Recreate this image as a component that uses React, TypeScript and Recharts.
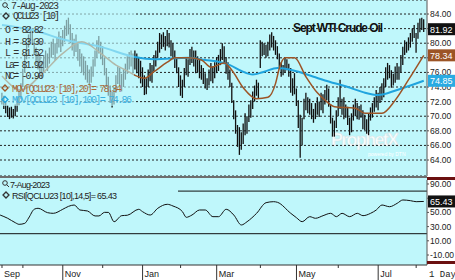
import React from "react";
import {
  ComposedChart,
  LineChart,
  Bar,
  Line,
  XAxis,
  YAxis,
  CartesianGrid,
  ReferenceLine,
} from "recharts";

// daily high / low, one entry per trading day (mid Sep 2022 .. 7 Aug 2023)
const highs = [
  73.2, 72.8, 72.0, 71.5, 71.2, 71.3, 71.0, 71.6, 72.4, 73.6, 74.5,
  76.5, 78.5, 80.0, 81.2, 82.3, 82.0, 80.6, 79.4, 78.6, 78.2, 77.6, 78.4, 79.0, 78.6, 79.4, 80.2, 80.6, 80.0, 80.8, 81.6, 81.0,
  81.8, 82.4, 83.2, 83.5, 82.6, 81.4, 80.6, 81.2, 80.2, 79.2, 78.6, 78.2, 77.6, 77.0, 76.4, 76.8, 77.8, 79.0, 80.4, 81.0, 80.2,
  79.6, 78.0, 76.6, 75.4, 74.2, 73.4, 74.0, 75.6, 76.8, 76.6, 75.8, 76.4, 77.2, 78.2, 78.8, 79.0, 78.6, 79.0, 78.6, 78.1, 77.6,
  76.7, 75.6, 75.2, 76.4, 77.3, 77.0, 78.4, 79.0, 80.2, 81.4, 81.2, 81.5, 81.0, 81.8, 81.4, 80.4, 80.0, 79.0, 78.0, 76.7, 75.6,
  75.0, 76.6, 78.1, 77.8, 79.2, 79.5, 79.0, 79.0, 78.2, 77.7, 77.0, 76.6, 75.9, 75.2, 76.4, 77.3, 76.8, 77.4,
  78.1, 78.4, 79.2, 80.0, 79.6, 78.1, 77.4, 76.4, 74.6, 72.2, 70.8, 68.8, 68.5, 67.8, 69.0, 70.4, 70.0, 71.6, 72.2, 73.4, 74.2, 75.0, 74.6,
  80.4, 80.2, 80.0, 79.8, 80.2, 81.2, 81.5, 81.0, 80.4, 79.6, 78.6, 77.4, 77.0, 78.1, 77.8, 77.2, 76.6, 75.2, 75.9,
  73.8, 72.2, 70.2, 69.8, 72.4, 73.2, 72.6, 72.4, 71.8, 71.0, 71.8, 72.6, 72.0, 73.2, 73.0, 73.6, 74.3, 73.8, 71.6, 69.8, 69.4, 70.8,
  72.6, 75.0, 72.4, 72.6, 71.6, 71.3, 69.8, 70.4, 71.6, 72.4, 71.8, 71.4, 71.6, 70.8, 70.2, 69.6, 70.4, 71.2, 71.8, 72.6, 73.6,
  73.2, 74.0, 74.5, 75.2, 76.7, 77.3, 77.0, 76.3, 75.8, 76.8, 77.3, 76.8, 78.4, 79.5, 80.4, 80.2, 80.8, 81.4, 82.0, 82.5,
  81.4, 82.8, 83.4, 83.5, 83.3,
];
const lows = [
  71.6, 71.0, 70.4, 69.9, 69.6, 69.8, 69.7, 70.0, 70.6, 71.5, 72.4,
  74.0, 76.0, 77.8, 79.4, 80.2, 79.8, 78.4, 77.2, 76.4, 75.8, 75.2, 76.0, 76.6, 76.2, 77.2, 78.0, 78.4, 77.6, 78.6, 79.4, 78.8,
  79.6, 80.2, 81.0, 81.2, 80.0, 79.0, 78.2, 78.8, 77.6, 76.8, 76.0, 75.6, 75.0, 74.6, 74.2, 74.6, 75.4, 76.8, 78.0, 78.6, 77.8,
  77.0, 75.6, 74.0, 72.8, 71.8, 71.2, 71.6, 73.2, 74.4, 74.2, 73.4, 74.0, 75.0, 75.8, 76.4, 76.8, 76.0, 76.4, 75.9, 75.2, 74.5,
  74.0, 72.9, 73.0, 74.0, 74.8, 74.6, 76.2, 76.8, 78.0, 78.7, 79.2, 79.5, 79.0, 79.6, 79.4, 78.2, 78.0, 76.6, 75.9, 74.0, 72.8,
  72.5, 74.0, 75.6, 75.4, 77.0, 77.3, 76.8, 75.9, 76.0, 75.2, 75.0, 74.4, 73.8, 73.6, 74.2, 74.8, 74.5, 75.2,
  75.9, 76.2, 77.0, 77.7, 77.2, 75.8, 75.0, 74.0, 71.8, 69.6, 67.6, 65.8, 64.7, 65.4, 66.2, 67.4, 67.6, 69.2, 69.8, 71.0, 72.0, 72.8, 72.4,
  76.6, 78.2, 78.4, 78.0, 78.2, 79.0, 79.4, 79.0, 78.4, 77.8, 76.6, 75.4, 75.6, 76.0, 76.3, 75.4, 73.2, 72.8, 73.0,
  71.4, 68.4, 64.3, 66.0, 69.6, 70.8, 70.4, 70.2, 69.6, 69.1, 69.6, 70.2, 69.9, 70.8, 70.4, 71.6, 72.2, 71.3, 69.0, 67.2, 67.2, 68.4,
  70.0, 71.0, 70.2, 69.6, 69.8, 68.8, 67.4, 67.8, 69.4, 70.0, 69.6, 69.5, 69.8, 68.2, 68.1, 67.6, 67.4, 69.4, 69.8, 70.6, 71.2,
  70.8, 71.8, 72.2, 72.6, 74.0, 75.0, 75.2, 73.9, 74.2, 74.6, 75.0, 75.0, 76.0, 77.0, 78.4, 78.7, 79.0, 79.4, 80.2, 80.7,
  78.7, 80.6, 81.5, 81.8, 81.52,
];

// moving averages at a few days
const ma20Idx = [0, 10, 21, 32, 42, 52, 60, 66, 70, 75, 80, 87, 91, 98, 105, 110, 117, 121, 127, 134, 140, 144, 146, 149, 154, 160, 166, 170, 175, 186, 191, 200, 207, 214, 222];
const ma20Val = [75.5, 73.6, 75.8, 78.6, 80.2, 78.6, 77.0, 76.2, 75.6, 75.2, 76.1, 77.4, 78.0, 78.0, 77.7, 76.7, 77.3, 76.3, 73.9, 72.4, 72.6, 74.5, 76.6, 78.0, 78.0, 75.4, 73.2, 72.2, 71.3, 71.1, 70.4, 70.4, 72.2, 75.0, 78.34];
const ma100Idx = [0, 16, 34, 52, 70, 80, 98, 107, 115, 120, 126, 132, 138, 145, 153, 164, 170, 182, 190, 198, 208, 222];
const ma100Val = [82.5, 81.8, 80.4, 79.5, 78.1, 77.8, 78.0, 77.7, 77.4, 77.0, 76.2, 75.7, 76.1, 76.6, 76.3, 75.4, 74.9, 74.0, 73.3, 72.9, 73.6, 74.85];

// RSI(14,5)
const rsiIdx = [-1, 3, 7, 9, 12, 14, 17, 19, 24, 27, 32, 35, 38, 41, 45, 49, 51, 54, 56, 59, 63, 66, 72, 74, 78, 82, 87, 90, 95, 97, 100, 104, 107, 111, 114, 118, 122, 126, 129, 134, 139, 143, 145, 152, 155, 158, 162, 165, 169, 173, 176, 179, 183, 187, 190, 194, 197, 200, 204, 208, 211, 215, 218, 222];
const rsiVal = [46.3, 41.7, 35.5, 33.2, 34.6, 42, 54.5, 55.8, 49.6, 48.7, 54.4, 58.5, 60.4, 53.4, 52, 45, 45, 50.1, 50, 36.9, 45.4, 46, 54.4, 51, 46.3, 55.8, 61.4, 59, 51, 43.1, 46.3, 53.4, 53.4, 44, 44, 54.4, 46.3, 32.3, 36.9, 48.7, 63.7, 65.1, 64.2, 48.7, 42.5, 36.9, 44, 41.7, 45.4, 48.7, 44, 48.7, 44, 48.7, 45.4, 48.7, 53.4, 60.4, 58, 62.8, 67.5, 66.5, 65.1, 65.43];

const priceTicks = [64, 66, 68, 70, 72, 74, 76, 78, 80, 82, 84];
const rsiTicks = [-10, 10, 30, 50, 70, 90];
// tick labels that sit fully under a last-value box in the original
const coveredPrice = [82, 78];
const coveredRsi = [70];
const monthIdx = [0, 11, 32, 53, 74, 94, 113, 136, 155, 177, 198, 218];
const monthNames = ["Sep", "Oct", "Nov", "Dec", "Jan", "Feb", "Mar", "Apr", "May", "Jun", "Jul", "Aug"];

const lastClose = 81.92;
const lastMa20 = 78.34;
const lastMa100 = 74.85;
const lastRsi = 65.43;

const BG = "#BFF7FB";
const BROWN = "#9C5426";
const BLUE = "#20A4DE";
const X_DOMAIN: [number, number] = [-1.05, 223.7];
const PRICE_DOMAIN: [number, number] = [61.81, 85.92];
const RSI_DOMAIN: [number, number] = [-24.08, 95.63];

const priceData = highs.map((h, i) => {
  const a = ma20Idx.indexOf(i);
  const b = ma100Idx.indexOf(i);
  return {
    i,
    range: [lows[i], h],
    ma20: a >= 0 ? ma20Val[a] : null,
    ma100: b >= 0 ? ma100Val[b] : null,
  };
});
const rsiData = rsiIdx.map((i, k) => ({ i, rsi: rsiVal[k] }));

const HLBar = (props: any) => {
  const { x, y, width, height } = props;
  const cx = x + width / 2;
  const top = Math.min(y, y + height);
  const bot = Math.max(y, y + height);
  return <line x1={cx} x2={cx} y1={top} y2={bot} stroke="#111" strokeWidth={1.3} />;
};

const valueBox = (value: number, fill: string) => (p: any) => {
  const vb = p.viewBox;
  const x = vb.x + vb.width;
  const y = vb.y;
  return (
    <g>
      <rect x={x + 1} y={y - 6} width={27} height={12} fill={fill} />
      <text x={x + 3} y={y + 3.5} fill="#fff" fontSize={9} fontFamily="Liberation Sans">
        {value.toFixed(2)}
      </text>
    </g>
  );
};

const MonthTick = (props: any) => {
  const { x, y, payload } = props;
  const k = monthIdx.indexOf(payload.value);
  const major = k % 2 === 0;
  return (
    <g>
      {major && k > 0 ? (
        <line x1={x} x2={x} y1={y} y2={y + 15} stroke="#333" />
      ) : (
        <line x1={x} x2={x} y1={y} y2={y + 3} stroke="#333" />
      )}
      {major && (
        <text x={x + 2} y={y + 12} fontSize={9} fill="#222" fontFamily="Liberation Sans">
          {monthNames[k]}
        </text>
      )}
    </g>
  );
};

// transparent chart on top, only for the last-value boxes on the right axis
const BoxLayer = ({ height, top, domain, boxes }: { height: number; top: number; domain: [number, number]; boxes: [number, string][] }) => (
  <ComposedChart width={455} height={height} data={priceData} margin={{ top, right: 28, left: 0, bottom: 0 }}>
    <XAxis type="number" dataKey="i" domain={X_DOMAIN} allowDataOverflow hide />
    <YAxis domain={domain} allowDataOverflow hide />
    {boxes.map(([v, c]) => (
      <ReferenceLine key={v} y={v} strokeOpacity={0} label={valueBox(v, c)} />
    ))}
  </ComposedChart>
);

const axisTick = { fill: "#222", fontSize: 8.5, fontFamily: "Liberation Sans" };
const fmt = (covered: number[]) => (v: number) => (covered.includes(v) ? "" : v.toFixed(2));

const Diamond = ({ x, y, c }: { x: number; y: number; c: string }) => (
  <polygon points={`${x},${y - 3} ${x + 3},${y} ${x},${y + 3} ${x - 3},${y}`} fill="none" stroke={c} strokeWidth={1.3} />
);
const Glass = ({ x, y }: { x: number; y: number }) => (
  <g stroke="#333" fill="none" strokeWidth={1}>
    <circle cx={x} cy={y} r={2.3} />
    <line x1={x + 1.7} y1={y + 1.7} x2={x + 4} y2={y + 4} />
  </g>
);

const mono = { fontFamily: "Liberation Mono", fontSize: 10 };

export default function App() {
  return (
    <div style={{ position: "absolute", left: 0, top: 0, width: 455, height: 280, background: BG, overflow: "hidden" }}>
      <svg width={455} height={280} style={{ position: "absolute", left: 0, top: 0 }}>
        <rect x={427} y={0} width={28} height={280} fill="#fff" />
        <rect x={0} y={265} width={455} height={15} fill="#fff" />
        <text
          x={331}
          y={146}
          fontSize={18}
          fontWeight="bold"
          fontFamily="Liberation Sans"
          fill="#fff"
          stroke="#d6e4e6"
          strokeWidth={0.6}
          opacity={0.9}
          textLength={68}
        >
          ProphetX
        </text>
        <text x={368} y={156} fontSize={5} fontFamily="Liberation Sans" fill="#fff">
          powered by DTN
        </text>
      </svg>

      <div style={{ position: "absolute", left: 0, top: 0 }}>
        <ComposedChart width={455} height={176} data={priceData} margin={{ top: 0, right: 0, left: 0, bottom: 0 }}>
          <CartesianGrid vertical={false} stroke="#222" strokeDasharray="2 2" />
          <XAxis type="number" dataKey="i" domain={X_DOMAIN} allowDataOverflow hide />
          <YAxis
            orientation="right"
            width={28}
            domain={PRICE_DOMAIN}
            allowDataOverflow
            ticks={priceTicks}
            interval={0}
            tick={axisTick}
            tickSize={2}
            tickMargin={1}
            tickFormatter={fmt(coveredPrice)}
            axisLine={{ stroke: "#555" }}
            tickLine={{ stroke: "#555" }}
          />
          <Bar dataKey="range" barSize={2} shape={HLBar} isAnimationActive={false} />
          <Line dataKey="ma100" type="monotone" stroke={BLUE} strokeWidth={2} dot={false} connectNulls isAnimationActive={false} />
          <Line dataKey="ma20" type="monotone" stroke={BROWN} strokeWidth={1.5} dot={false} connectNulls isAnimationActive={false} />
        </ComposedChart>
      </div>
      <div style={{ position: "absolute", left: 0, top: 0 }}>
        <BoxLayer
          height={176}
          top={0}
          domain={PRICE_DOMAIN}
          boxes={[
            [lastClose, "#111"],
            [lastMa20, BROWN],
            [lastMa100, "#29ABE2"],
          ]}
        />
      </div>

      <div style={{ position: "absolute", left: 0, top: 178 }}>
        <LineChart width={455} height={102} data={rsiData} margin={{ top: 2, right: 0, left: 0, bottom: 0 }}>
          <XAxis
            type="number"
            dataKey="i"
            domain={X_DOMAIN}
            allowDataOverflow
            ticks={monthIdx}
            interval={0}
            height={15}
            tickSize={0}
            tickMargin={0}
            tick={<MonthTick />}
            axisLine={{ stroke: "#333" }}
          />
          <YAxis
            orientation="right"
            width={28}
            domain={RSI_DOMAIN}
            allowDataOverflow
            ticks={rsiTicks}
            interval={0}
            tick={axisTick}
            tickSize={2}
            tickMargin={1}
            tickFormatter={fmt(coveredRsi)}
            axisLine={{ stroke: "#555" }}
            tickLine={{ stroke: "#555" }}
          />
          <ReferenceLine y={80} stroke="#111" />
          <ReferenceLine y={20} stroke="#111" />
          <Line dataKey="rsi" type="monotone" stroke="#111" strokeWidth={1} dot={false} isAnimationActive={false} />
        </LineChart>
      </div>
      <div style={{ position: "absolute", left: 0, top: 178 }}>
        <BoxLayer height={87} top={2} domain={RSI_DOMAIN} boxes={[[lastRsi, "#111"]]} />
      </div>

      <svg width={455} height={280} style={{ position: "absolute", left: 0, top: 0, pointerEvents: "none" }}>
        {/* faded legend area */}
        <rect x={0} y={0} width={134} height={106} fill={BG} opacity={0.62} />
        <Glass x={5} y={5} />
        <text x={11} y={8.5} {...mono} fill="#333" textLength={48}>7-Aug-2023</text>
        <Diamond x={6} y={16} c="#333" />
        <text x={13} y={19} {...mono} fill="#333" textLength={47}>QCLU23 [10]</text>
        <text x={5} y={33} {...mono} fill="#333" textLength={39}>O = 82.82</text>
        <text x={5} y={44.5} {...mono} fill="#333" textLength={39}>H = 83.30</text>
        <text x={5} y={56} {...mono} fill="#333" textLength={39}>L = 81.52</text>
        <text x={5} y={67.5} {...mono} fill="#333" textLength={39}>La= 81.92</text>
        <text x={5} y={79} {...mono} fill="#333" textLength={39}>NC= -0.90</text>
        <Diamond x={5} y={88} c={BROWN} />
        <text x={12} y={91.5} {...mono} fill="#A8693A" textLength={110}>MOV[QCLU23 [10],20]= 78.34</text>
        <Diamond x={5} y={99.5} c={BLUE} />
        <text x={12} y={103} {...mono} fill="#3AAFE0" textLength={120}>MOV[QCLU23 [10],100]= 74.86</text>

        <text x={293} y={32} fontFamily="Liberation Sans" fontWeight="bold" fontSize={12} fill="#111" textLength={90}>
          Sept WTI Crude Oil
        </text>

        {/* panel separators */}
        <rect x={0} y={176} width={427} height={2} fill="#6E6E6E" />
        <rect x={427} y={177} width={28} height={3} fill="#6B1010" />
        <rect x={427} y={261} width={28} height={3} fill="#6B1010" />

        {/* RSI legend */}
        <rect x={0} y={180} width={178} height={17} fill={BG} />
        <Glass x={5} y={183} />
        <text x={10} y={187.5} fontFamily="Liberation Sans" fontSize={9} fill="#222" textLength={40}>7-Aug-2023</text>
        <Diamond x={6} y={195} c="#333" />
        <text x={12} y={198.5} fontFamily="Liberation Sans" fontSize={9} fill="#222" textLength={105}>
          RSI[QCLU23 [10],14,5]= 65.43
        </text>

        <text x={429} y={277} fontFamily="Liberation Mono" fontSize={9} fill="#222">1 Day</text>
      </svg>
    </div>
  );
}
